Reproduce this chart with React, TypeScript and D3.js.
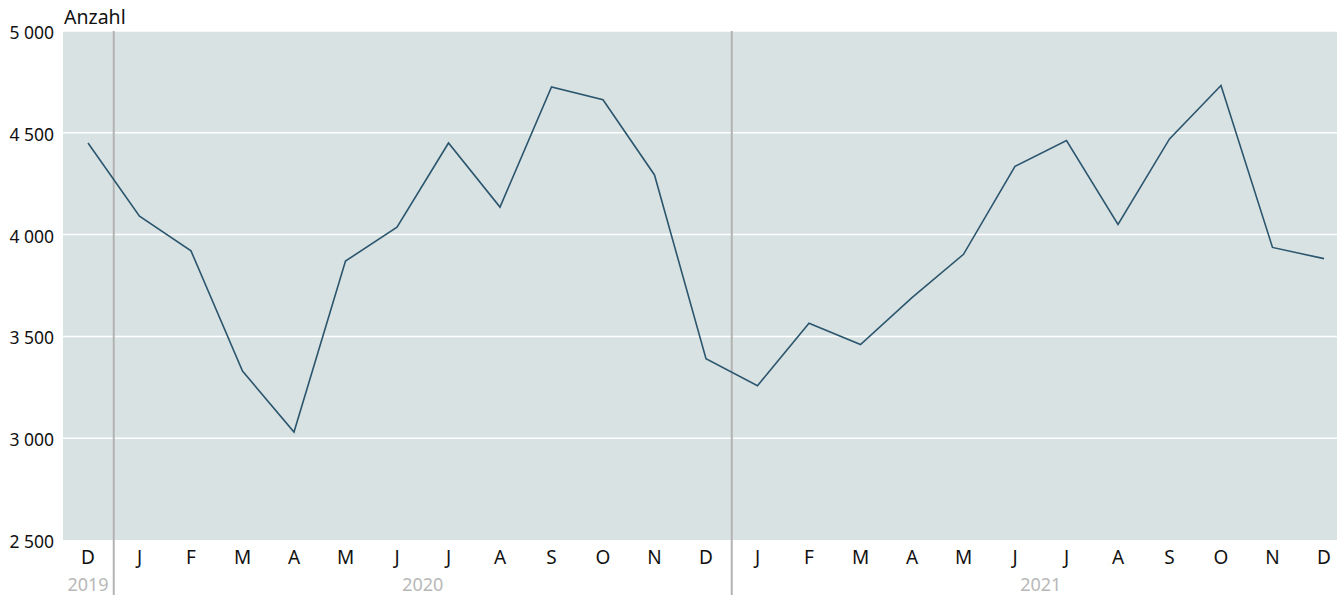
import React from "react";
import * as d3 from "d3";

const months = ["D", "J", "F", "M", "A", "M", "J", "J", "A", "S", "O", "N", "D", "J", "F", "M", "A", "M", "J", "J", "A", "S", "O", "N", "D"];
const values = [4450, 4090, 3920, 3330, 3030, 3870, 4037, 4450, 4135, 4725, 4662, 4293, 3390, 3258, 3565, 3460, 3690, 3903, 4335, 4462, 4050, 4470, 4732, 3937, 3882];
const years = [
  { label: "2019", from: 0, to: 0 },
  { label: "2020", from: 1, to: 12 },
  { label: "2021", from: 13, to: 24 },
];
const yTicks = [2500, 3000, 3500, 4000, 4500, 5000];

export default function App() {
  const W = 1337, H = 595;
  const left = 63, right = 1337, top = 31, bottom = 540;
  const idx = months.map((_, i) => i);
  const x = d3.scalePoint<number>().domain(idx).range([88, 1324]);
  const y = d3.scaleLinear().domain([2500, 5000]).range([bottom, top]);
  const line = d3.line<number>().x((_, i) => x(i)!).y((d) => y(d));
  const step = x.step();
  const font = "'Noto Sans', 'Open Sans', sans-serif";
  const seps = [0.5, 12.5].map((v) => x(0)! + v * step);
  return (
    <svg width={W} height={H} style={{ position: "absolute", left: 0, top: 0 }} fontFamily={font}>
      <rect x={left} y={top} width={right - left} height={bottom - top} fill="#d9e2e3" />
      {yTicks.slice(1).map((t) => (
        <line key={t} x1={left} x2={right} y1={y(t)} y2={y(t)} stroke="#ffffff" strokeWidth={1.5} />
      ))}
      {yTicks.map((t) => (
        <text key={t} x={54} y={y(t) + 8} textAnchor="end" fontSize={17.5} fill="#111" style={{ whiteSpace: "pre" }}>
          {d3.format(",")(t).replace(",", "\u2005")}
        </text>
      ))}
      <text x={64} y={24} fontSize={19.5} fill="#111">Anzahl</text>
      {seps.map((s, i) => (
        <line key={i} x1={s} x2={s} y1={top} y2={H} stroke="#b3b3b3" strokeWidth={2} />
      ))}
      <path d={line(values) || ""} fill="none" stroke="#2b566e" strokeWidth={1.6} />
      {months.map((m, i) => (
        <text key={i} x={x(i)!} y={564} textAnchor="middle" fontSize={19} fill="#111">{m}</text>
      ))}
      {years.map((yr) => (
        <text key={yr.label} x={(x(yr.from)! + x(yr.to)!) / 2} y={591} textAnchor="middle" fontSize={18} fill="#b8b8b8">{yr.label}</text>
      ))}
    </svg>
  );
}
